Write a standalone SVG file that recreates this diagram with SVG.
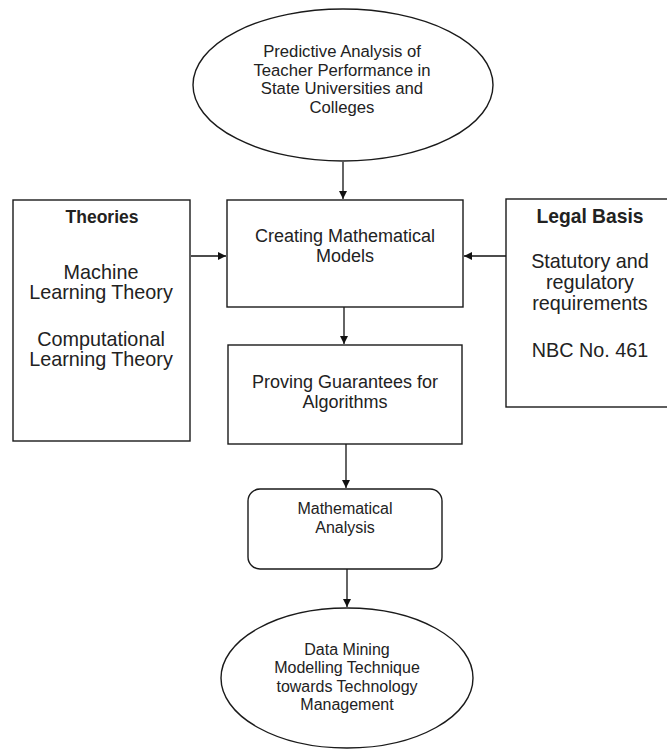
<svg xmlns="http://www.w3.org/2000/svg" width="667" height="751" viewBox="0 0 667 751">
<style>
.shape{fill:#fff;stroke:#1a1a1a;stroke-width:1.4}
.conn{stroke:#111;stroke-width:1.3;fill:none;marker-end:url(#ah)}
text{font-family:"Liberation Sans",Arial,sans-serif;fill:#222;text-anchor:middle}
.t16{font-size:16px}
.t17{font-size:16.7px}
.t18{font-size:18px}
.t20{font-size:19.8px}
.b{font-weight:bold;font-size:17.5px}
.b2{font-weight:bold;font-size:19.3px}
</style>
<defs>
<marker id="ah" viewBox="0 0 10 10" refX="10" refY="5" markerWidth="8" markerHeight="8" markerUnits="userSpaceOnUse" orient="auto">
<path d="M0,0 L10,5 L0,10 z" fill="#111"/>
</marker>
</defs>
<rect width="667" height="751" fill="#fff"/>
<g id="connectors">
<line class="conn" x1="343" y1="162" x2="343" y2="199"/>
<line class="conn" x1="191" y1="256" x2="226" y2="256"/>
<line class="conn" x1="506" y1="256" x2="464" y2="256"/>
<line class="conn" x1="344" y1="307" x2="344" y2="344"/>
<line class="conn" x1="346" y1="444" x2="346" y2="488"/>
<line class="conn" x1="347" y1="569" x2="347" y2="607"/>
</g>
<g id="node-predictive">
<ellipse class="shape" cx="343" cy="85" rx="150" ry="76"/>
<text class="t17" x="342" y="57">Predictive Analysis of</text>
<text class="t17" x="342" y="76">Teacher  Performance in</text>
<text class="t17" x="342" y="94">State Universities and</text>
<text class="t17" x="342" y="113">Colleges</text>
</g>
<g id="node-theories">
<rect class="shape" x="13" y="200" width="177" height="241"/>
<text class="b" x="102" y="223">Theories</text>
<text class="t20" x="101" y="279">Machine</text>
<text class="t20" x="101" y="299">Learning Theory</text>
<text class="t20" x="101" y="346">Computational</text>
<text class="t20" x="101" y="366">Learning Theory</text>
</g>
<g id="node-creating">
<rect class="shape" x="227" y="200" width="236" height="107"/>
<text class="t18" x="345" y="242">Creating Mathematical</text>
<text class="t18" x="345" y="262">Models</text>
</g>
<g id="node-legal">
<rect class="shape" x="506" y="199" width="170" height="208"/>
<text class="b2" x="590" y="223">Legal Basis</text>
<text class="t20" x="590" y="268">Statutory and</text>
<text class="t20" x="590" y="289">regulatory</text>
<text class="t20" x="590" y="310">requirements</text>
<text class="t20" x="590" y="357">NBC No. 461</text>
</g>
<g id="node-proving">
<rect class="shape" x="228" y="345" width="234" height="99"/>
<text class="t18" x="345" y="388">Proving Guarantees for</text>
<text class="t18" x="345" y="408">Algorithms</text>
</g>
<g id="node-analysis">
<rect class="shape" x="248" y="489" width="194" height="80" rx="12" ry="12"/>
<text class="t16" x="345" y="514">Mathematical</text>
<text class="t16" x="345" y="533">Analysis</text>
</g>
<g id="node-datamining">
<ellipse class="shape" cx="347" cy="678" rx="126" ry="70"/>
<text class="t16" x="347" y="655">Data Mining</text>
<text class="t16" x="347" y="673">Modelling Technique</text>
<text class="t16" x="347" y="692">towards Technology</text>
<text class="t16" x="347" y="710">Management</text>
</g>
</svg>
